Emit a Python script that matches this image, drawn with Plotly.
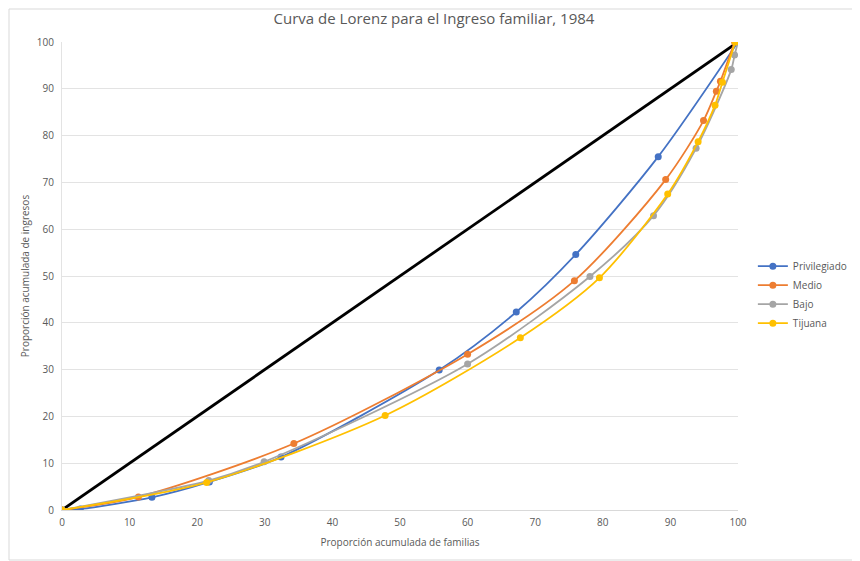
import plotly.graph_objects as go

# Curva de Lorenz, 1984
priv_x = [0, 2.7, 13.3, 21.8, 32.4, 55.8, 67.2, 76.0, 88.2, 100]
priv_y = [0, 0.2, 2.7, 6.0, 11.3, 29.9, 42.3, 54.6, 75.5, 100]

medio_x = [0, 11.3, 34.3, 60.0, 75.8, 89.3, 94.9, 96.8, 97.4, 99.5]
medio_y = [0, 2.8, 14.2, 33.3, 49.0, 70.6, 83.2, 89.5, 91.6, 100]

bajo_x = [0, 21.7, 29.9, 60.0, 78.1, 87.5, 93.8, 99.0, 99.5, 100]
bajo_y = [0, 6.3, 10.3, 31.2, 49.9, 62.9, 77.3, 94.1, 97.2, 100]

tij_x = [0, 21.4, 47.8, 67.8, 79.5, 89.6, 94.1, 96.6, 97.7, 99.6]
tij_y = [0, 5.9, 20.2, 36.8, 49.6, 67.5, 78.7, 86.5, 91.4, 100]

igualdad = [0, 100]

series = [
    ("Privilegiado", priv_x, priv_y, "#4472C4"),
    ("Medio", medio_x, medio_y, "#ED7D31"),
    ("Bajo", bajo_x, bajo_y, "#A5A5A5"),
    ("Tijuana", tij_x, tij_y, "#FFC000"),
]

fig = go.Figure()

fig.add_trace(go.Scatter(
    x=igualdad, y=igualdad, mode="lines",
    line=dict(color="black", width=2.8),
    showlegend=False, hoverinfo="skip",
))

for name, xs, ys, color in series:
    fig.add_trace(go.Scatter(
        x=xs, y=ys, name=name, mode="lines+markers",
        line=dict(color=color, width=1.8, shape="spline", smoothing=0.8),
        marker=dict(color=color, size=7),
    ))

# the page body has an 8px margin, so the figure is 8px smaller than the window
W, H = 852, 553
ml, mr, mt, mb = 54, 122, 34, 51
pw, ph = W - ml - mr, H - mt - mb

fig.add_shape(
    type="rect", xref="paper", yref="paper",
    x0=-(ml - 1) / pw, x1=1 + (mr - 2) / pw,
    y0=-(mb - 1) / ph, y1=1 + (mt - 1) / ph,
    line=dict(color="#D9D9D9", width=1), layer="below",
)

axis_font = dict(family="Open Sans, Liberation Sans, sans-serif", size=10, color="#595959")

fig.update_layout(
    width=W, height=H,
    margin=dict(l=ml, r=mr, t=mt, b=mb, autoexpand=False),
    paper_bgcolor="white", plot_bgcolor="white",
    font=axis_font,
    title=dict(
        text="Curva de Lorenz para el Ingreso familiar, 1984",
        x=0.5, xanchor="center", y=1 - 11 / H, yanchor="middle",
        font=dict(family="Open Sans, Liberation Sans, sans-serif", size=15, color="#595959"),
    ),
    legend=dict(
        x=1.022, y=0.46, xanchor="left", yanchor="middle",
        font=dict(size=10, color="#595959"),
        itemwidth=30, tracegroupgap=4,
    ),
    xaxis=dict(
        range=[0, 100], tickmode="linear", tick0=0, dtick=10,
        showgrid=False, zeroline=False, automargin=False,
        showline=True, linecolor="#D9D9D9", linewidth=1,
        ticks="", tickfont=axis_font, ticklabelstandoff=3,
        title=dict(text="Proporción acumulada de familias", font=axis_font, standoff=10),
    ),
    yaxis=dict(
        range=[0, 100], tickmode="linear", tick0=0, dtick=10,
        showgrid=True, gridcolor="#E3E3E3", gridwidth=1, automargin=False,
        zeroline=False, showline=True, linecolor="#E3E3E3",
        ticks="", tickfont=axis_font, ticklabelstandoff=5,
        title=dict(text="Proporción acumulada de ingresos", font=axis_font, standoff=5),
    ),
)

fig.write_html("out.html")
